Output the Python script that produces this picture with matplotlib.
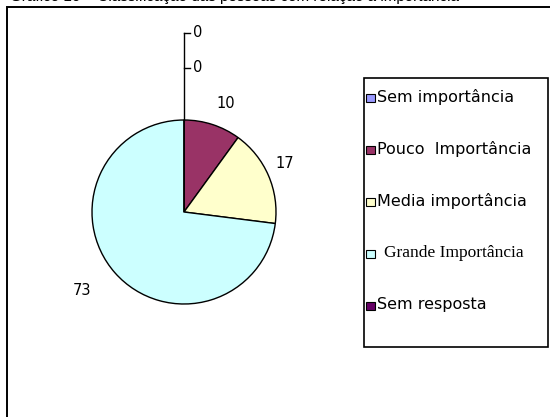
import numpy as np
import matplotlib
matplotlib.use("Agg")
import matplotlib.pyplot as plt
from matplotlib.patches import Rectangle

# ------------------------------------------------------------
# Data
# ------------------------------------------------------------
categories = ["Sem importância", "Pouco  Importância", "Media importância",
              "Grande Importância", "Sem resposta"]
values = [0, 10, 17, 73, 0]
colors = ["#9999FF", "#993366", "#FFFFCC", "#CCFFFF", "#660066"]
title = "Gráfico 10 – Classificação das pessoas com relação à importância"

# ------------------------------------------------------------
# Layout (pixel units, y measured from the top)
# ------------------------------------------------------------
W, H = 550, 417
cx, cy, R = 184, 212, 92
# label offsets in units of the pie radius (x right, y up)
label_off = [(0.15, 1.95), (0.45, 1.18), (1.10, 0.53), (-1.11, -0.85), (0.15, 1.57)]
leg_box = (364, 78, 548, 347)
leg_rows = [97, 149, 201, 253, 305]
font = "DejaVu Sans"
fs = 10.5
leg_fs = 11.5


def Y(y):
    return H - y


fig = plt.figure(figsize=(W / 100, H / 100), dpi=100)
ax = fig.add_axes([0, 0, 1, 1])

wedges, _ = ax.pie(values, colors=colors, startangle=90, counterclock=False,
                   center=(cx, Y(cy)), radius=R, frame=True,
                   wedgeprops=dict(edgecolor="black", linewidth=1.0))
ax.set_xlim(0, W)
ax.set_ylim(0, H)
ax.set_aspect("equal")
ax.axis("off")

# value labels
for v, (dx, dy) in zip(values, label_off):
    ax.text(cx + dx * R, Y(cy) + dy * R, str(v), ha="center", va="center",
            fontsize=fs, family=font, color="black")

# leader line for the zero slices
top = max(d[1] for d in label_off)
ax.plot([cx, cx], [Y(cy) + R, Y(cy) + top * R], color="black", lw=1.0)
for v, (dx, dy) in zip(values, label_off):
    if v == 0:
        ax.plot([cx, cx + 0.06 * R], [Y(cy) + dy * R] * 2, color="black", lw=1.0)

# outer chart border (runs off the right/bottom)
ax.add_patch(Rectangle((7, Y(430)), 560, 423, fill=False, edgecolor="black",
                       lw=1.4, clip_on=False))

# legend
x0, y0, x1, y1 = leg_box
ax.add_patch(Rectangle((x0, Y(y1)), x1 - x0, y1 - y0, fill=False,
                       edgecolor="black", lw=1.2))
for lab, col, ry in zip(categories, colors, leg_rows):
    ax.add_patch(Rectangle((366, Y(ry) - 5), 9, 8, facecolor=col,
                           edgecolor="black", lw=0.8))
    if lab.startswith("Grande"):
        ax.text(384, Y(ry), lab, ha="left", va="center", fontsize=12.5,
                family="Liberation Serif")
    else:
        ax.text(377, Y(ry), lab, ha="left", va="center", fontsize=leg_fs,
                family=font)

# title, mostly cut off at the top edge
ax.text(10, Y(1), title, ha="left", va="baseline", fontsize=11,
        family="Liberation Sans", clip_on=False)

fig.savefig("out.png", dpi=100)
